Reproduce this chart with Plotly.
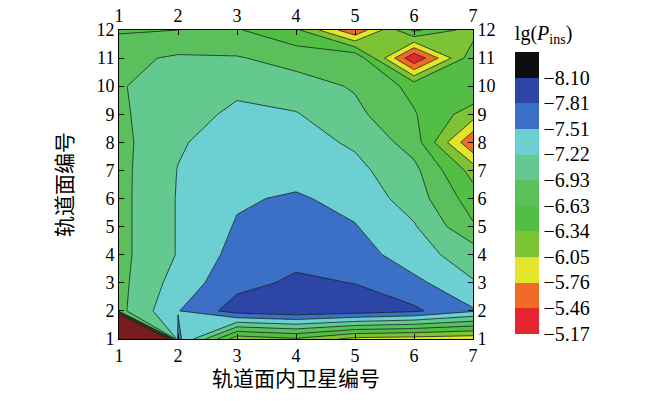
import plotly.graph_objects as go

# satellite index within a plane (x) and orbital plane index (y)
sat_ids = [1, 2, 3, 4, 5, 6, 7]
plane_ids = [1, 2, 3, 4, 5, 6, 7, 8, 9, 10, 11, 12]

# lg(P_ins), one list per orbital plane (y = 1 .. 12)
plane_01 = [8.00, -7.60, -6.15, -6.30, -5.95, -5.90, -5.85]
plane_02 = [-6.84, -7.50, -7.95, -8.05, -7.98, -7.86, -7.55]
plane_03 = [-6.84, -7.35, -7.71, -7.86, -7.80, -7.60, -7.24]
plane_04 = [-6.84, -7.24, -7.62, -7.72, -7.68, -7.32, -7.10]
plane_05 = [-6.84, -7.24, -7.54, -7.64, -7.53, -7.25, -6.67]
plane_06 = [-6.84, -7.24, -7.48, -7.55, -7.42, -7.08, -6.49]
plane_07 = [-6.84, -7.23, -7.42, -7.40, -7.30, -7.01, -6.23]
plane_08 = [-6.84, -7.19, -7.36, -7.33, -7.18, -6.80, -5.48]
plane_09 = [-6.88, -7.12, -7.27, -7.24, -7.00, -6.66, -6.19]
plane_10 = [-6.90, -7.10, -7.17, -7.05, -6.90, -6.55, -6.62]
plane_11 = [-6.85, -6.97, -6.95, -6.82, -6.90, -5.20, -6.55]
plane_12 = [-6.60, -6.635, -6.66, -6.40, -5.50, -6.70, -6.20]

lg_p = [plane_01, plane_02, plane_03, plane_04, plane_05, plane_06,
        plane_07, plane_08, plane_09, plane_10, plane_11, plane_12]

# contour levels shown on the colour bar
levels = [-8.10, -7.81, -7.51, -7.22, -6.93, -6.63, -6.34, -6.05, -5.76, -5.46, -5.17]
level_start = -8.10
level_end = -5.17
level_step = 0.293

# band colours, lowest band (below -8.10) first, band above -5.17 last
band_colors = ["#0e0e0e", "#2c45a6", "#3c70c6", "#6ccfd1", "#63c98f", "#5bbf5b",
               "#52be43", "#7ec336", "#e3e52b", "#f06b25", "#e72330", "#7a1c1e"]

FONT = "Liberation Serif, Noto Sans CJK SC"

n_bands = len(band_colors)
contour_scale = [[i / (n_bands - 1), c] for i, c in enumerate(band_colors)]

fig = go.Figure()
fig.add_trace(
    go.Contour(
        x=sat_ids,
        y=plane_ids,
        z=lg_p,
        colorscale=contour_scale,
        showscale=False,
        contours=dict(start=level_start, end=level_end, size=level_step, coloring="fill"),
        line=dict(color="rgba(18,38,30,0.9)", width=0.9, smoothing=0),
        hoverinfo="skip",
    )
)

# colour bar: min on top, so plot negated values and relabel the ticks
bar_colors = band_colors[:-1][::-1]  # red at the bottom ... black on top
nb = len(bar_colors)
bar_scale = []
for i, c in enumerate(bar_colors):
    bar_scale.append([i / nb, c])
    bar_scale.append([(i + 1) / nb, c])

fig.add_trace(
    go.Scatter(
        x=[None, None],
        y=[None, None],
        xaxis="x2",
        yaxis="y2",
        mode="markers",
        showlegend=False,
        hoverinfo="skip",
        marker=dict(
            color=[-level_end, -(level_start - level_step)],
            cmin=-level_end,
            cmax=-(level_start - level_step),
            colorscale=bar_scale,
            showscale=True,
            colorbar=dict(
                x=1.09,
                xanchor="left",
                y=0.522,
                yanchor="middle",
                len=1.075,
                lenmode="fraction",
                thickness=24,
                outlinewidth=0,
                ticks="",
                tickvals=[-v for v in levels],
                ticktext=["\u2212%.2f" % abs(v) for v in levels],
                tickfont=dict(family=FONT, size=20, color="black"),
                title=dict(
                    text="lg(<i>P</i><sub>ins</sub>)",
                    side="top",
                    font=dict(family=FONT, size=20, color="black"),
                ),
            ),
        ),
    )
)

axis_common = dict(
    tickmode="array",
    ticks="inside",
    ticklen=5,
    tickcolor="black",
    showline=True,
    linecolor="black",
    linewidth=1,
    showgrid=False,
    zeroline=False,
    automargin=False,
    tickfont=dict(family=FONT, size=18, color="black"),
)

fig.update_layout(
    width=650,
    height=401,
    margin=dict(l=119, r=177, t=27, b=62),
    paper_bgcolor="white",
    plot_bgcolor="white",
    showlegend=False,
    font=dict(family=FONT, color="black"),
    xaxis=dict(
        range=[1, 7],
        tickvals=sat_ids,
        title=dict(text="轨道面内卫星编号", font=dict(family=FONT, size=21), standoff=6),
        **axis_common,
    ),
    yaxis=dict(
        range=[1, 12],
        tickvals=plane_ids,
        title=dict(text="轨道面编号", font=dict(family=FONT, size=21), standoff=18),
        **axis_common,
    ),
    xaxis2=dict(
        range=[1, 7],
        tickvals=sat_ids,
        overlaying="x",
        side="top",
        anchor="y",
        **axis_common,
    ),
    yaxis2=dict(
        range=[1, 12],
        tickvals=plane_ids,
        overlaying="y",
        side="right",
        anchor="x",
        **axis_common,
    ),
)

# drop the browser's default page margin so the figure sits at (0, 0)
fig.write_html(
    "out.html",
    config={"displayModeBar": False},
    post_script="document.body.style.margin='0';",
)
